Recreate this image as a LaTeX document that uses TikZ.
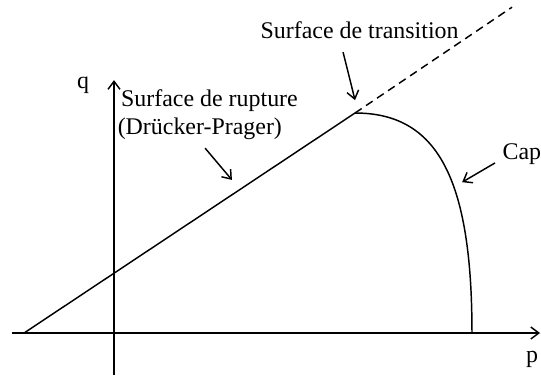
\documentclass[tikz,border=0pt]{standalone}
\usepackage{fontspec}
\setmainfont{Liberation Serif}
\newfontfamily\labelfont{Liberation Serif}
\usetikzlibrary{arrows.meta}
\begin{document}
\begin{tikzpicture}[line width=1.1pt, font=\labelfont\fontsize{18}{21}\selectfont,
                    >={Straight Barb[length=6pt,width=9pt]},
                    lbl/.style={inner sep=0pt, anchor=base west}]
                    \useasboundingbox (-3.016,-1.19) rectangle (11.296,8.81);
                    % Axes
                    \coordinate (O) at (0,0);
                    \coordinate (pstart) at (-2.70,0);
                    \coordinate (pend) at (11.27,0);
                    \coordinate (qstart) at (0,-1.11);
                    \coordinate (qend) at (0,6.69);
                    \draw[->] (pstart) -- (pend);
                    \draw[->] (qstart) -- (qend);
                    \node (p) at (11.06,-0.71) {p};
                    \node (q) at (-0.82,6.56) {q};
                    % Rupture line, transition and cap
                    \coordinate (A) at (-2.38,0);
                    \coordinate (K) at (6.376,5.82);
                    \coordinate (D) at (10.53,8.62);
                    \coordinate (C) at (9.47,0);
                    \draw (A) -- (K);
                    \draw[dash pattern=on 6pt off 4pt] (K) -- (D);
                    \draw (K) .. controls (8.55,5.82) and (9.47,4.10) .. (C);
                    % Labels
                    \node[lbl] (trans) at (3.86,7.80) {Surface de transition};
                    \node[lbl] (rupt) at (0.17,5.98) {Surface de rupture};
                    \node[lbl] (dp) at (0.08,5.24) {(Drücker-Prager)};
                    \node[lbl] (cap) at (10.26,4.58) {Cap};
                    % Arrows
                    \coordinate (t1) at (6.06,7.43);
                    \coordinate (t2) at (6.376,6.16);
                    \draw[->] (t1) -- (t2);
                    \coordinate (r1) at (2.41,4.89);
                    \coordinate (r2) at (3.12,4.05);
                    \draw[->] (r1) -- (r2);
                    \coordinate (c1) at (10.08,4.50);
                    \coordinate (c2) at (9.21,3.99);
                    \draw[->] (c1) -- (c2);
                \end{tikzpicture}
\end{document}
